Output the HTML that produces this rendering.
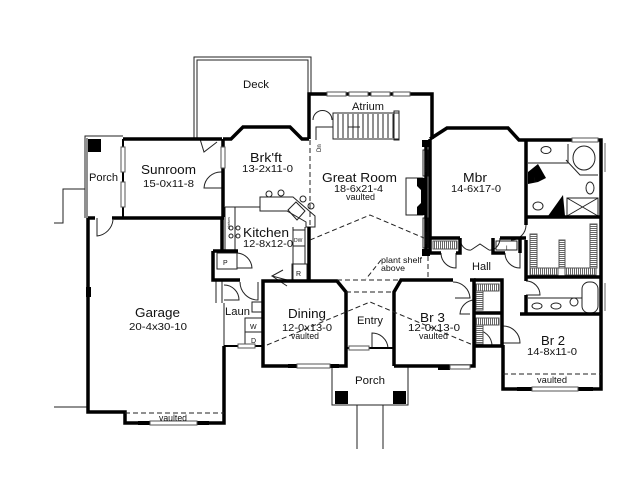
<!DOCTYPE html>
<html><head><meta charset="utf-8"><style>
html,body{margin:0;padding:0;background:#fff;}
svg{display:block;}
text{font-family:"Liberation Sans",Arial,sans-serif;fill:#111;}
</style></head><body>
<svg width="640" height="480" viewBox="0 0 640 480" xmlns="http://www.w3.org/2000/svg">
<defs>
<pattern id="hv" width="2" height="4" patternUnits="userSpaceOnUse">
<rect width="2" height="4" fill="#fff"/>
<rect width="1" height="4" fill="#666"/>
</pattern>
<pattern id="hh" width="4" height="2" patternUnits="userSpaceOnUse">
<rect width="4" height="2" fill="#fff"/>
<rect width="4" height="1" fill="#666"/>
</pattern>
</defs>
<rect width="640" height="480" fill="#fff"/>
<g fill="none" stroke="#222" stroke-width="1">
<!-- Deck -->
<path d="M194,139 V57 H311 V94"/>
<path d="M197,139 V60 H308 V94"/>
<!-- Left porch -->
<path d="M123,136 H85 V218"/>
<path d="M87,138 V218"/>
<path d="M85,189 H63 V223 H54"/>
<path d="M54,407 H89"/>
<!-- bottom porch -->
<path d="M332,366 V405 H408 V366"/>
<path d="M357,405 V449 M383,405 V449"/>
<!-- stairs -->
<rect x="333" y="113" width="66" height="26"/>
<path d="M338,114 V138 M343,114 V138 M348,114 V138 M353,114 V138 M358,114 V138 M363,114 V138 M368,114 V138 M373,114 V138 M378,114 V138 M383,114 V138 M388,114 V138 M393,114 V138"/>
<rect x="394" y="111" width="5" height="29"/>
<path d="M333,127 H316 V140 M348,127 H360"/>
<path d="M313,120 A9,9 0 0 1 332,120"/>
<!-- fireplace -->
<rect x="406" y="178" width="17" height="37"/>
<rect x="423" y="150" width="5" height="26"/>
<rect x="423" y="218" width="5" height="30"/>
<!-- kitchen counters -->
<path d="M225,207 V251 M235,207 V251 M225,207 H260"/>
<path d="M260,197 H293 L315,216 V227 H306 V222 L287,211 H260 Z"/>
<circle cx="269" cy="194" r="3"/><circle cx="281" cy="193" r="3"/><circle cx="303" cy="199" r="3"/><circle cx="311" cy="206" r="3"/>
<path d="M288,210 L296,202 L305,211 L297,220 Z"/>
<circle cx="231" cy="228" r="2"/><circle cx="231" cy="236" r="2"/><circle cx="238" cy="228" r="2"/><circle cx="238" cy="236" r="2"/>
<path d="M293,227 V280 M305,227 V264"/>
<rect x="293" y="230" width="12" height="16"/>
<rect x="292" y="264" width="15" height="16"/>
<!-- pantry -->
<rect x="217" y="253" width="20" height="16"/>
<path d="M237,253 A16,16 0 0 1 252,268 H237"/>
<!-- laundry -->
<path d="M216,280 V303 M222,280 V303"/>
<path d="M224,285 A15,15 0 0 1 239,300 H224"/>
<path d="M240,282 A18,18 0 0 0 258,300 V282"/>
<rect x="252" y="302" width="10" height="10"/>
<rect x="245" y="318" width="17" height="14"/>
<rect x="245" y="332" width="17" height="14"/>
<path d="M224,303 V346"/>
<!-- doors -->
<path d="M97,218 V236 A18,18 0 0 0 113,220"/>
<path d="M222,172 A17,17 0 0 0 204,188 H222"/>
<path d="M200,139 L204,152 L217,142"/>
<path d="M287,280 L272,276 L283,270 M272,276 L287,286"/>
<path d="M372,348 V333 A16,16 0 0 1 388,348"/>
<path d="M453,282 A17,17 0 0 1 470,298 L455,298"/>
<path d="M441,253 A15,15 0 0 0 456,268 V253"/>
<path d="M460,238 A10,12 0 0 0 471,250 M500,238 A10,12 0 0 1 489,250 M471,250 L480,244 L489,250"/>
<path d="M505,253 A15,15 0 0 0 520,268 V253"/>
<path d="M526,225 A15,15 0 0 1 511,240"/>
<path d="M526,281 A14,14 0 0 1 540,295 H526"/>
<path d="M503,326 A17,17 0 0 1 520,343 H503"/>
<path d="M474,300 A15,15 0 0 0 460,314 L470,314"/>
<path d="M476,330 A16,16 0 0 1 492,346"/>
<!-- closets hatch -->
<rect x="433" y="241" width="24" height="8" fill="url(#hv)" stroke="#555"/>
<rect x="496" y="241" width="21" height="9"/>
<rect x="476" y="284" width="23" height="7" fill="url(#hv)" stroke="#555"/>
<rect x="476" y="291" width="7" height="19" fill="url(#hh)" stroke="#555"/>
<rect x="476" y="318" width="23" height="7" fill="url(#hv)" stroke="#555"/>
<rect x="476" y="325" width="7" height="19" fill="url(#hh)" stroke="#555"/>
<rect x="530" y="234" width="7" height="34" fill="url(#hh)" stroke="#555"/>
<rect x="530" y="268" width="28" height="7" fill="url(#hv)" stroke="#555"/>
<rect x="565" y="268" width="31" height="7" fill="url(#hv)" stroke="#555"/>
<rect x="590" y="224" width="7" height="44" fill="url(#hh)" stroke="#555"/>
<rect x="559" y="240" width="6" height="28" fill="url(#hh)" stroke="#555"/>
<!-- master bath -->
<path d="M528,163 H568 V144 M566,160 L580,175 H598"/>
<ellipse cx="546" cy="150" rx="5" ry="3.5"/>
<ellipse cx="584" cy="158" rx="11" ry="12"/>
<ellipse cx="590" cy="188" rx="4" ry="6"/>
<rect x="567" y="198" width="31" height="18"/>
<path d="M567,198 L598,216 M598,198 L567,216"/>
<ellipse cx="538" cy="206" rx="5" ry="4"/>
<!-- bath 2 -->
<rect x="582" y="282" width="16" height="31" rx="7"/>
<path d="M528,298 H582"/>
<ellipse cx="537" cy="306" rx="5" ry="3"/>
<ellipse cx="556" cy="306" rx="5" ry="3"/>
<ellipse cx="574" cy="302" rx="4" ry="4"/>
<path d="M601,143 V172 M605,143 V172 M601,283 V311 M605,283 V311" stroke="#666"/>
</g>
<g fill="#000">
<rect x="88" y="139" width="13" height="13"/>
<rect x="335" y="391" width="13" height="13"/>
<rect x="393" y="391" width="13" height="13"/>
<path d="M417,178 H426 V215 H417 V207 L421,203 V190 L417,186 Z"/>
<rect x="422" y="140" width="8" height="7"/>
<rect x="422" y="249" width="8" height="7"/>
<path d="M528,172 L538,164 L546,178 L538,182 L528,184 Z"/>
<path d="M548,216 L563,195 L565,216 Z"/>
<rect x="138" y="421" width="12" height="4"/><rect x="197" y="421" width="12" height="4"/>
<rect x="288" y="364" width="9" height="4"/><rect x="330" y="364" width="9" height="4"/>
<rect x="438" y="366" width="12" height="4"/>
<rect x="517" y="387" width="15" height="4"/><rect x="578" y="387" width="15" height="4"/>
<rect x="86" y="287" width="5" height="10"/>
</g>
<g fill="none" stroke="#000" stroke-width="3.5" stroke-linejoin="miter">
<path d="M123,139 H222"/>
<path d="M88,218 H95 M112,218 H224"/>
<path d="M88,218 V412 H125 V423 H224 V346"/>
<path d="M223,139 H231 L243,127 H290 L302,139 H309"/>
<path d="M223,139 V217 M222,217 V251"/>
<path d="M213,251 V280 H240 M213,251 H238"/>
<path d="M309,139 V94 H432 V139"/>
<path d="M309,227 V281"/>
<path d="M263,281 H337 L346,292 V366 H263 Z"/>
<path d="M394,366 V292 L401,280 H453 M470,280 H474 V366 H394"/>
<path d="M474,280 H502 V346 H474 M474,313 H502"/>
<path d="M426,140 V256"/>
<path d="M430,139 L447,128 H508 L519,140 H601 V389 H503 V345"/>
<path d="M430,139 V253 M430,238 H460 M500,238 H526 M430,253 H441 M456,253 H460 V238"/>
<path d="M493,238 V253 H505 M520,253 V238"/>
<path d="M526,140 V225 M526,240 V281 M526,295 V314"/>
<path d="M526,217 H601 M526,277 H601 M520,314 H601"/>
</g>
<g fill="none" stroke="#000" stroke-width="2">
<path d="M224,346 H263"/>
<path d="M123,139 V217"/>
<path d="M346,348 H394"/>
</g>
<g stroke="#555" stroke-width="1" fill="#fff">
<rect x="327" y="92" width="19" height="4"/><rect x="349" y="92" width="19" height="4"/><rect x="371" y="92" width="19" height="4"/><rect x="393" y="92" width="17" height="4"/>
<rect x="221" y="147" width="4" height="21"/>
<rect x="121" y="147" width="4" height="25"/><rect x="121" y="182" width="4" height="25"/>
<rect x="150" y="421" width="47" height="4"/>
<rect x="297" y="364" width="33" height="4"/>
<rect x="450" y="365" width="20" height="4"/>
<rect x="532" y="387" width="46" height="4"/>
<rect x="238" y="344" width="17" height="4"/>
<rect x="572" y="138" width="26" height="4"/>
<rect x="349" y="346" width="20" height="4"/>
</g>
<g fill="none" stroke="#222" stroke-width="1" stroke-dasharray="5,3">
<path d="M310,140 V227"/>
<path d="M310,240 L370,215 L424,238"/>
<path d="M267,345 L370,302 L473,345"/>
<path d="M337,280 H400"/>
<path d="M346,292 H394"/>
<path d="M428,256 V280"/>
<path d="M125,413 H224"/>
<path d="M503,374 H601"/>
<path d="M381,260 L366,279"/>
</g>
<g>
<text x="243" y="88" font-size="11" textLength="26" lengthAdjust="spacingAndGlyphs">Deck</text>
<text x="352" y="110" font-size="11" textLength="32" lengthAdjust="spacingAndGlyphs">Atrium</text>
<text x="141" y="174" font-size="12.5" textLength="55" lengthAdjust="spacingAndGlyphs">Sunroom</text>
<text x="143" y="187" font-size="10.5" textLength="51" lengthAdjust="spacingAndGlyphs">15-0x11-8</text>
<text x="89" y="181" font-size="11" textLength="29" lengthAdjust="spacingAndGlyphs">Porch</text>
<text x="250" y="162" font-size="12.5" textLength="32" lengthAdjust="spacingAndGlyphs">Brk'ft</text>
<text x="242" y="172" font-size="10.5" textLength="51" lengthAdjust="spacingAndGlyphs">13-2x11-0</text>
<text x="322" y="182" font-size="12.5" textLength="75" lengthAdjust="spacingAndGlyphs">Great Room</text>
<text x="334" y="192" font-size="10.5" textLength="49" lengthAdjust="spacingAndGlyphs">18-6x21-4</text>
<text x="346" y="200" font-size="9" textLength="29" lengthAdjust="spacingAndGlyphs">vaulted</text>
<text x="463" y="182" font-size="12.5" textLength="24" lengthAdjust="spacingAndGlyphs">Mbr</text>
<text x="451" y="192" font-size="10.5" textLength="50" lengthAdjust="spacingAndGlyphs">14-6x17-0</text>
<text x="243" y="237" font-size="12.5" textLength="46" lengthAdjust="spacingAndGlyphs">Kitchen</text>
<text x="243" y="247" font-size="10.5" textLength="50" lengthAdjust="spacingAndGlyphs">12-8x12-0</text>
<text x="135" y="317" font-size="12.5" textLength="45" lengthAdjust="spacingAndGlyphs">Garage</text>
<text x="129" y="330" font-size="10.5" textLength="58" lengthAdjust="spacingAndGlyphs">20-4x30-10</text>
<text x="225" y="315" font-size="11" textLength="25" lengthAdjust="spacingAndGlyphs">Laun</text>
<text x="288" y="318" font-size="12.5" textLength="38" lengthAdjust="spacingAndGlyphs">Dining</text>
<text x="282" y="331" font-size="10.5" textLength="50" lengthAdjust="spacingAndGlyphs">12-0x13-0</text>
<text x="291" y="339" font-size="9" textLength="28" lengthAdjust="spacingAndGlyphs">vaulted</text>
<text x="357" y="324" font-size="11" textLength="26" lengthAdjust="spacingAndGlyphs">Entry</text>
<text x="420" y="322" font-size="12.5" textLength="25" lengthAdjust="spacingAndGlyphs">Br 3</text>
<text x="408" y="331" font-size="10.5" textLength="52" lengthAdjust="spacingAndGlyphs">12-0x13-0</text>
<text x="419" y="339" font-size="9" textLength="29" lengthAdjust="spacingAndGlyphs">vaulted</text>
<text x="472" y="270" font-size="11" textLength="19" lengthAdjust="spacingAndGlyphs">Hall</text>
<text x="541" y="345" font-size="12.5" textLength="24" lengthAdjust="spacingAndGlyphs">Br 2</text>
<text x="527" y="355" font-size="10.5" textLength="50" lengthAdjust="spacingAndGlyphs">14-8x11-0</text>
<text x="537" y="383" font-size="9" textLength="30" lengthAdjust="spacingAndGlyphs">vaulted</text>
<text x="355" y="384" font-size="11" textLength="30" lengthAdjust="spacingAndGlyphs">Porch</text>
<text x="159" y="421" font-size="9" textLength="28" lengthAdjust="spacingAndGlyphs">vaulted</text>
<text x="381" y="263" font-size="8.5" textLength="41" lengthAdjust="spacingAndGlyphs">plant shelf</text>
<text x="381" y="271" font-size="8.5" textLength="24" lengthAdjust="spacingAndGlyphs">above</text>
<text x="223" y="265" font-size="7">P</text>
<text x="250" y="329" font-size="7">W</text>
<text x="251" y="343" font-size="7">D</text>
<text x="296" y="276" font-size="7">R</text>
<text x="294" y="242" font-size="5">DW</text>
<text x="534" y="182" font-size="6">L</text>
<text x="506" y="250" font-size="6">L</text>
<text x="321" y="152" font-size="6" transform="rotate(-90 321 152)">Dn</text>
<text x="427" y="172" font-size="3.5" transform="rotate(-90 427 172)">shelves</text>
<text x="427" y="244" font-size="3.5" transform="rotate(-90 427 244)">shelves</text>
<text x="230" y="229" font-size="3.5" transform="rotate(-90 230 229)">shelves</text>
</g>
</svg>
</body></html>
